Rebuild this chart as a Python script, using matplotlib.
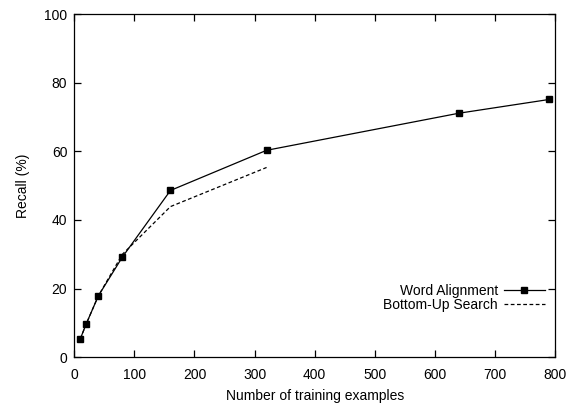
import matplotlib
matplotlib.use("Agg")
import matplotlib.pyplot as plt

plt.rcParams['font.family'] = ['Liberation Sans', 'DejaVu Sans']

wa_x = [10, 20, 40, 80, 160, 320, 640, 790]
wa_y = [5.4, 9.8, 17.9, 29.2, 48.6, 60.3, 71.1, 75.1]
bu_x = [10, 20, 40, 80, 160, 320]
bu_y = [5.4, 9.8, 17.9, 30.0, 43.9, 55.3]

xticks = [0, 100, 200, 300, 400, 500, 600, 700, 800]
yticks = [0, 20, 40, 60, 80, 100]

fig = plt.figure(figsize=(5.69, 4.04), dpi=100)
ax = fig.add_axes([0.1306, 0.1156, 0.8448, 0.8497])

ax.plot(wa_x, wa_y, color='black', lw=0.9, marker='s', markersize=5,
        label='Word Alignment')
ax.plot(bu_x, bu_y, color='black', lw=0.9, linestyle=(0, (3, 2)),
        label='Bottom-Up Search')

ax.set_xlim(0, 800)
ax.set_ylim(0, 100)
ax.set_xticks(xticks)
ax.set_yticks(yticks)
ax.tick_params(direction='in', length=5, width=0.9, top=True, right=True,
               labelsize=10, pad=5)
ax.tick_params(axis='x', pad=7.5)
for s in ax.spines.values():
    s.set_linewidth(0.9)

ax.set_xlabel('Number of training examples', fontsize=10, labelpad=5)
ax.set_ylabel('Recall (%)', fontsize=10, labelpad=10)

leg = ax.legend(loc='lower right', frameon=False, markerfirst=False,
                fontsize=10, handlelength=3.0, handletextpad=0.4,
                labelspacing=0.0, bbox_to_anchor=(1.0, 0.104),
                borderaxespad=0.3)

fig.savefig('out.png', dpi=100)
